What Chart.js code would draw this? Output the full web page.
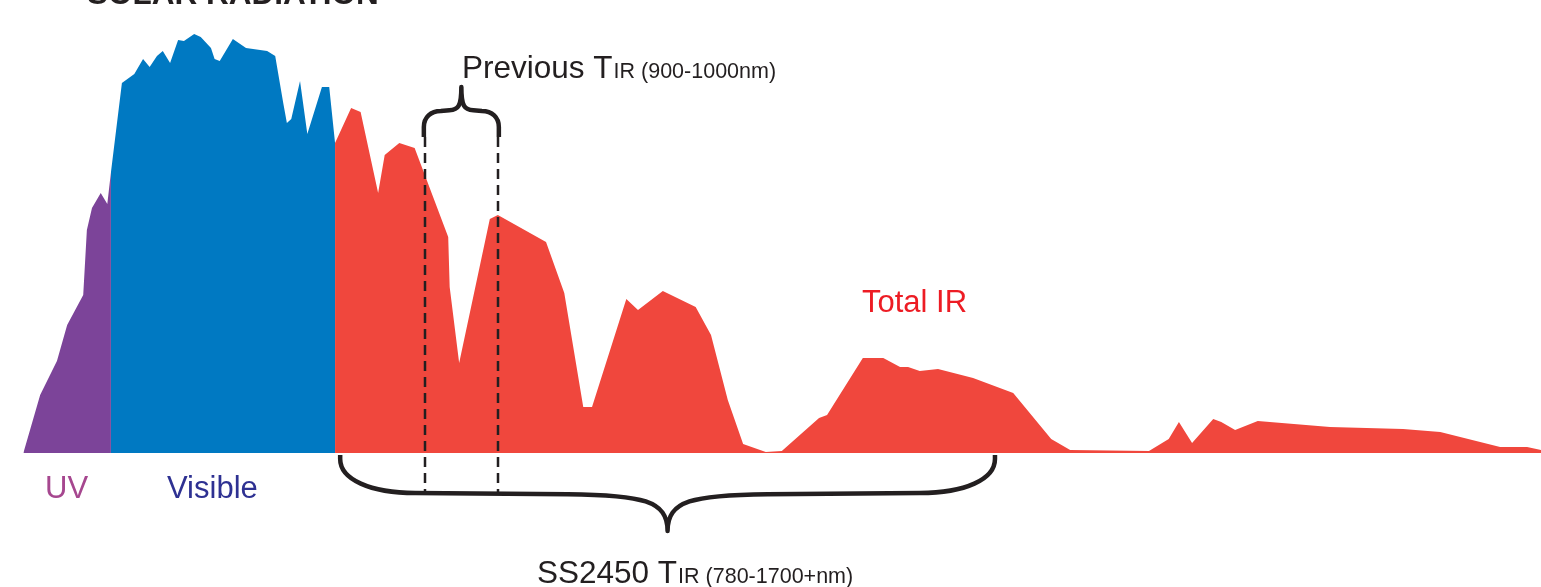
<!DOCTYPE html>
<html>
<head>
<meta charset="utf-8">
<script src="https://cdn.jsdelivr.net/npm/chart.js@4/dist/chart.umd.min.js"></script>
<style>
  html, body { margin: 0; padding: 0; background: #ffffff; }
  canvas { display: block; }
</style>
</head>
<body>
<canvas id="c" width="1541" height="587"></canvas>
<script>
// ---- Data (wavelength in nm, relative spectral intensity) ----
const uvWavelength  = [350, 373, 396, 410, 432, 437, 444, 456, 465, 470];
const uvIntensity   = [0,   58,  92,  128, 158, 223, 245, 260, 249, 281];

const visWavelength = [470, 485, 502, 514, 523, 533, 541, 551, 562, 570, 584, 593, 607, 612, 619, 637, 655, 684, 695, 706, 711, 717, 729, 739, 759, 769, 777];
const visIntensity  = [281, 370, 379, 394, 386, 397, 402, 390, 413, 412, 419, 416, 405, 394, 392, 414, 405, 402, 397, 350, 330, 334, 372, 319, 366, 366, 310];

const irWavelength  = [777, 799, 812, 836, 845, 865, 886, 932, 934, 947, 989, 1000, 1066, 1091, 1117, 1129, 1176, 1192, 1226, 1271, 1292, 1315, 1336, 1367, 1389, 1440, 1451, 1500, 1528, 1551, 1562, 1578, 1603, 1651, 1706, 1758, 1784, 1892, 1919, 1933, 1951, 1980, 1991, 2010, 2041, 2140, 2240, 2291, 2373, 2410, 2429];
const irIntensity   = [310, 345, 341, 260, 298, 310, 305, 216, 166, 90,  234, 238,  211,  160,  46,   46,   154,  143,  162,  146,  118,  53,   9,    1,    2,    35,   38,   95,   95,   86,   86,   82,   84,   75,   60,   14,   3,    2,    14,   31,   10,   34,   31,   23,   32,   26,   24,   21,   6,    6,    3];

const seriesNames   = ['UV', 'Visible', 'Total IR'];
const titleText     = 'SOLAR RADIATION';
const previousRange = [900, 1000];      // Previous T_IR band (nm)
const ss2450Span    = [784, 1681];      // extent of the lower brace (nm)

const FONT = '"Liberation Sans", Arial, Helvetica, sans-serif';
const DARK = '#231f20';

function pts(xs, ys) { return xs.map((x, i) => ({ x: x, y: ys[i] })); }

const annotations = {
  id: 'annotations',
  afterDraw(chart) {
    const ctx = chart.ctx;
    const X = v => chart.scales.x.getPixelForValue(v);
    const Y = v => chart.scales.y.getPixelForValue(v);
    ctx.save();

    // dashed guide lines for previous band
    ctx.strokeStyle = DARK;
    ctx.lineWidth = 2.5;
    ctx.setLineDash([10, 6]);
    previousRange.forEach(nm => {
      const x = Math.round(X(nm));
      ctx.beginPath();
      ctx.moveTo(x, Y(316));
      ctx.lineTo(x, Y(-40));
      ctx.stroke();
    });
    ctx.setLineDash([]);

    // curly brace: arms at x1/x2 start at yEnd, run along yMid, tip at yTip
    function brace(x1, x2, yEnd, yMid, yTip, r, ry, r2) {
      const xc = (x1 + x2) / 2, s = Math.sign(yMid - yEnd), t = yTip - yMid;
      const a = yMid - s * ry;
      ctx.beginPath();
      ctx.moveTo(x1, yEnd);
      ctx.lineTo(x1, a);
      ctx.bezierCurveTo(x1, a + s * 0.6 * ry, x1 + 0.4 * r, yMid, x1 + r, yMid);
      ctx.lineTo(xc - r2, yMid + t * 0.03);
      ctx.bezierCurveTo(xc - r2 * 0.25, yMid + t * 0.05, xc, yMid + t * 0.2, xc, yTip);
      ctx.bezierCurveTo(xc, yMid + t * 0.2, xc + r2 * 0.25, yMid + t * 0.05, xc + r2, yMid + t * 0.03);
      ctx.lineTo(x2 - r, yMid);
      ctx.bezierCurveTo(x2 - 0.4 * r, yMid, x2, a + s * 0.6 * ry, x2, a);
      ctx.lineTo(x2, yEnd);
      ctx.stroke();
    }

    ctx.strokeStyle = DARK;
    ctx.lineWidth = 4.5;
    ctx.lineCap = 'butt';
    ctx.lineJoin = 'round';
    // upper brace (Previous T_IR)
    brace(X(previousRange[0]) - 1, X(previousRange[1]) + 1, Y(316), Y(342), Y(366), 17, 16, 12);
    // lower brace (SS2450 T_IR)
    brace(X(ss2450Span[0]), X(ss2450Span[1]), Y(-2), Y(-40), Y(-78), 75, 34, 100);

    // texts
    ctx.textBaseline = 'alphabetic';
    ctx.textAlign = 'left';

    ctx.fillStyle = DARK;
    ctx.font = 'bold 31.5px ' + FONT;
    ctx.fillText(titleText, 87, 4);

    function labelWithSub(main, sub, x, y) {
      ctx.fillStyle = DARK;
      ctx.font = '31.5px ' + FONT;
      ctx.fillText(main, x, y);
      const w = ctx.measureText(main).width;
      ctx.font = '21.5px ' + FONT;
      ctx.fillText(sub, x + w + 1, y);
    }
    labelWithSub('Previous T', 'IR (900-1000nm)', 462, 78);
    labelWithSub('SS2450 T', 'IR (780-1700+nm)', 537, 583);

    ctx.font = '31px ' + FONT;
    ctx.fillStyle = '#a6478f';
    ctx.fillText(seriesNames[0], 45, 498);
    ctx.fillStyle = '#2e3192';
    ctx.fillText(seriesNames[1], 167, 498);
    ctx.fillStyle = '#ed1c24';
    ctx.fillText(seriesNames[2], 862, 312);

    ctx.restore();
  }
};

new Chart(document.getElementById('c'), {
  type: 'line',
  data: {
    datasets: [
      { label: seriesNames[0], data: pts(uvWavelength, uvIntensity),  backgroundColor: '#7c4499', borderWidth: 0, fill: 'origin', pointRadius: 0, tension: 0 },
      { label: seriesNames[1], data: pts(visWavelength, visIntensity), backgroundColor: '#0079c2', borderWidth: 0, fill: 'origin', pointRadius: 0, tension: 0 },
      { label: seriesNames[2], data: pts(irWavelength, irIntensity),  backgroundColor: '#f0473d', borderWidth: 0, fill: 'origin', pointRadius: 0, tension: 0 }
    ]
  },
  options: {
    responsive: false,
    animation: false,
    devicePixelRatio: 1,
    layout: { padding: 0 },
    plugins: { legend: { display: false }, tooltip: { enabled: false }, title: { display: false } },
    scales: {
      x: { type: 'linear', min: 318, max: 2429, display: false },
      y: { type: 'linear', min: -134, max: 453, display: false }
    }
  },
  plugins: [annotations]
});
</script>
</body>
</html>
